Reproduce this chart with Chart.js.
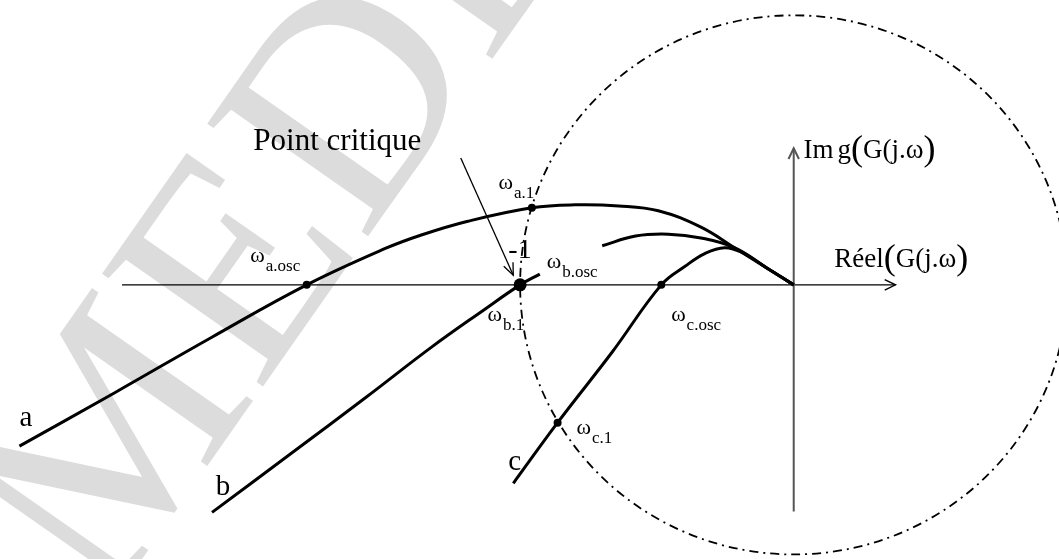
<!DOCTYPE html>
<html>
<head>
<meta charset="utf-8">
<script src="https://cdn.jsdelivr.net/npm/chart.js@4.4.1/dist/chart.umd.min.js"></script>
<style>
  html, body { margin: 0; padding: 0; background: #fff; }
  #wrap { width: 1059px; height: 559px; position: relative; }
</style>
</head>
<body>
<div id="wrap"><canvas id="nyquist"></canvas></div>
<script>
// Nyquist loci G(jω), real / imaginary parts, unit = |G| = 1
const curveA = [
  [-2.830, -0.598], [-2.480, -0.399], [-2.130, -0.196], [-1.780, 0.000],
  [-1.495, 0.134], [-1.361, 0.185], [-1.191, 0.236], [-0.957, 0.286],
  [-0.801, 0.297], [-0.639, 0.293], [-0.495, 0.275], [-0.339, 0.214],
  [-0.217, 0.138], [-0.097, 0.062], [0.000, 0.000]
];
// curve b is interrupted where its ω label sits
const curveBLow = [
  [-2.126, -0.844], [-1.830, -0.620], [-1.563, -0.417], [-1.325, -0.232],
  [-1.134, -0.094], [-1.000, 0.000], [-0.928, 0.040]
];
const curveBHigh = [
  [-0.700, 0.145], [-0.578, 0.181], [-0.458, 0.188], [-0.339, 0.174],
  [-0.217, 0.138], [-0.097, 0.062], [0.000, 0.000]
];
const curveC = [
  [-1.025, -0.736], [-0.863, -0.511], [-0.664, -0.250], [-0.484, 0.000],
  [-0.397, 0.069], [-0.325, 0.116], [-0.253, 0.138], [-0.188, 0.120],
  [-0.097, 0.062], [0.000, 0.000]
];
// characteristic frequencies: ωa.osc, ωa.1, ωc.osc, ωc.1
const freqPoints = [[-1.780, 0.000], [-0.957, 0.286], [-0.484, 0.000], [-0.863, -0.511]];
// critical point -1 (also ωb.osc / ωb.1)
const criticalPoint = [[-1.000, 0.000]];

const toXY = arr => arr.map(([x, y]) => ({ x, y }));

const SERIF = '"Liberation Serif", "Times New Roman", serif';

// annotation layout, in data units
const omegaLabels = [
  { sub: 'a.osc', at: [-1.986, 0.083] },
  { sub: 'a.1',   at: [-1.079, 0.355] },
  { sub: 'b.osc', at: [-0.903, 0.062] },
  { sub: 'b.1',   at: [-1.119, -0.134] },
  { sub: 'c.osc', at: [-0.448, -0.134] },
  { sub: 'c.1',   at: [-0.794, -0.554] }
];
const curveNames = [
  { text: 'a', at: [-2.830, -0.525] },
  { text: 'b', at: [-2.112, -0.779] },
  { text: 'c', at: [-1.043, -0.688] }
];
const axisSpan = { re: [-2.455, 0.372], im: [-0.841, 0.507] };

const curveStyle = {
  borderColor: '#000', borderWidth: 3, pointRadius: 0, fill: false,
  showLine: true, tension: 0.4, borderCapStyle: 'butt', borderJoinStyle: 'round'
};

function openHead(ctx, tx, ty, ang, len, spread) {
  ctx.beginPath();
  ctx.moveTo(tx - len * Math.cos(ang - spread), ty - len * Math.sin(ang - spread));
  ctx.lineTo(tx, ty);
  ctx.lineTo(tx - len * Math.cos(ang + spread), ty - len * Math.sin(ang + spread));
  ctx.stroke();
}

function drawRun(ctx, x, y, parts) {
  for (const p of parts) {
    ctx.font = p.size + 'px ' + SERIF;
    ctx.fillText(p.t, x, y + (p.dy || 0));
    x += ctx.measureText(p.t).width + (p.gap || 0);
  }
}

const nyquistDecor = {
  id: 'nyquistDecor',
  beforeDraw(chart) {
    const ctx = chart.ctx;
    ctx.save();
    ctx.fillStyle = '#dcdcdc';
    ctx.font = '300px ' + SERIF;
    ctx.translate(105, 612);
    ctx.rotate(-55 * Math.PI / 180);
    ctx.fillText('MEDD', 0, 0);
    ctx.restore();
  },
  beforeDatasetsDraw(chart) {
    const { ctx, scales: { x, y } } = chart;
    const cx = x.getPixelForValue(0), cy = y.getPixelForValue(0);
    ctx.save();
    // unit circle
    ctx.strokeStyle = '#000';
    ctx.lineWidth = 1.8;
    ctx.setLineDash([9, 5, 2, 5]);
    ctx.beginPath();
    ctx.ellipse(cx, cy, x.getPixelForValue(1) - cx, cy - y.getPixelForValue(1), 0, 0, Math.PI * 2);
    ctx.stroke();
    ctx.setLineDash([]);
    // real axis
    const x0 = x.getPixelForValue(axisSpan.re[0]), x1 = x.getPixelForValue(axisSpan.re[1]);
    ctx.strokeStyle = '#000';
    ctx.lineWidth = 1.4;
    ctx.beginPath(); ctx.moveTo(x0, cy); ctx.lineTo(x1, cy); ctx.stroke();
    openHead(ctx, x1, cy, 0, 12, 0.45);
    // imaginary axis
    const y0 = y.getPixelForValue(axisSpan.im[0]), y1 = y.getPixelForValue(axisSpan.im[1]);
    ctx.strokeStyle = '#555';
    ctx.lineWidth = 2;
    ctx.beginPath(); ctx.moveTo(cx, y0); ctx.lineTo(cx, y1); ctx.stroke();
    openHead(ctx, cx, y1, -Math.PI / 2, 12, 0.45);
    ctx.restore();
  },
  afterDraw(chart) {
    const { ctx, scales: { x, y } } = chart;
    const P = ([a, b]) => [x.getPixelForValue(a), y.getPixelForValue(b)];
    ctx.save();
    ctx.fillStyle = '#000';
    ctx.textBaseline = 'alphabetic';
    ctx.textAlign = 'left';

    for (const l of omegaLabels) {
      const [px, py] = P(l.at);
      ctx.font = '22px ' + SERIF;
      ctx.fillText('ω', px, py);
      const w = ctx.measureText('ω').width;
      ctx.font = '17px ' + SERIF;
      ctx.fillText(l.sub, px + w + 1, py + 9);
    }
    for (const c of curveNames) {
      const [px, py] = P(c.at);
      ctx.font = '29px ' + SERIF;
      ctx.fillText(c.text, px, py);
    }

    let [px, py] = P([-1.975, 0.500]);
    ctx.font = '31px ' + SERIF;
    ctx.fillText('Point critique', px, py);

    [px, py] = P([-1.043, 0.101]);
    ctx.font = '28px ' + SERIF;
    ctx.fillText('-1', px, py);

    [px, py] = P([0.036, 0.471]);
    drawRun(ctx, px, py, [
      { t: 'Im', size: 27, gap: 4 }, { t: 'g', size: 27 }, { t: '(', size: 36, dy: 2 },
      { t: 'G(j.ω', size: 27 }, { t: ')', size: 36, dy: 2 }
    ]);
    [px, py] = P([0.148, 0.065]);
    drawRun(ctx, px, py, [
      { t: 'Réel', size: 27 }, { t: '(', size: 36, dy: 2 },
      { t: 'G(j.ω', size: 27 }, { t: ')', size: 36, dy: 2 }
    ]);

    // arrow pointing at the critical point
    const [ax0, ay0] = P([-1.217, 0.471]);
    const [ax1, ay1] = P([-1.025, 0.036]);
    ctx.strokeStyle = '#000';
    ctx.lineWidth = 1.3;
    ctx.beginPath(); ctx.moveTo(ax0, ay0); ctx.lineTo(ax1, ay1); ctx.stroke();
    openHead(ctx, ax1, ay1, Math.atan2(ay1 - ay0, ax1 - ax0), 13, 0.4);
    ctx.restore();
  }
};

new Chart(document.getElementById('nyquist'), {
  type: 'line',
  data: {
    datasets: [
      { label: 'a', data: toXY(curveA), ...curveStyle },
      { label: 'b', data: toXY(curveBLow), ...curveStyle },
      { label: 'b', data: toXY(curveBHigh), ...curveStyle },
      { label: 'c', data: toXY(curveC), ...curveStyle },
      { label: 'ω', data: toXY(freqPoints), showLine: false, pointRadius: 4,
        pointBackgroundColor: '#000', pointBorderWidth: 0 },
      { label: '-1', data: toXY(criticalPoint), showLine: false, pointRadius: 6.5,
        pointBackgroundColor: '#000', pointBorderWidth: 0 }
    ]
  },
  options: {
    responsive: true,
    maintainAspectRatio: false,
    animation: false,
    events: [],
    layout: { padding: 0 },
    plugins: { legend: { display: false }, tooltip: { enabled: false } },
    scales: {
      x: { type: 'linear', display: false, min: -797 / 277, max: 262 / 277 },
      y: { type: 'linear', display: false, min: -274 / 276, max: 285 / 276 }
    }
  },
  plugins: [nyquistDecor]
});
</script>
</body>
</html>
